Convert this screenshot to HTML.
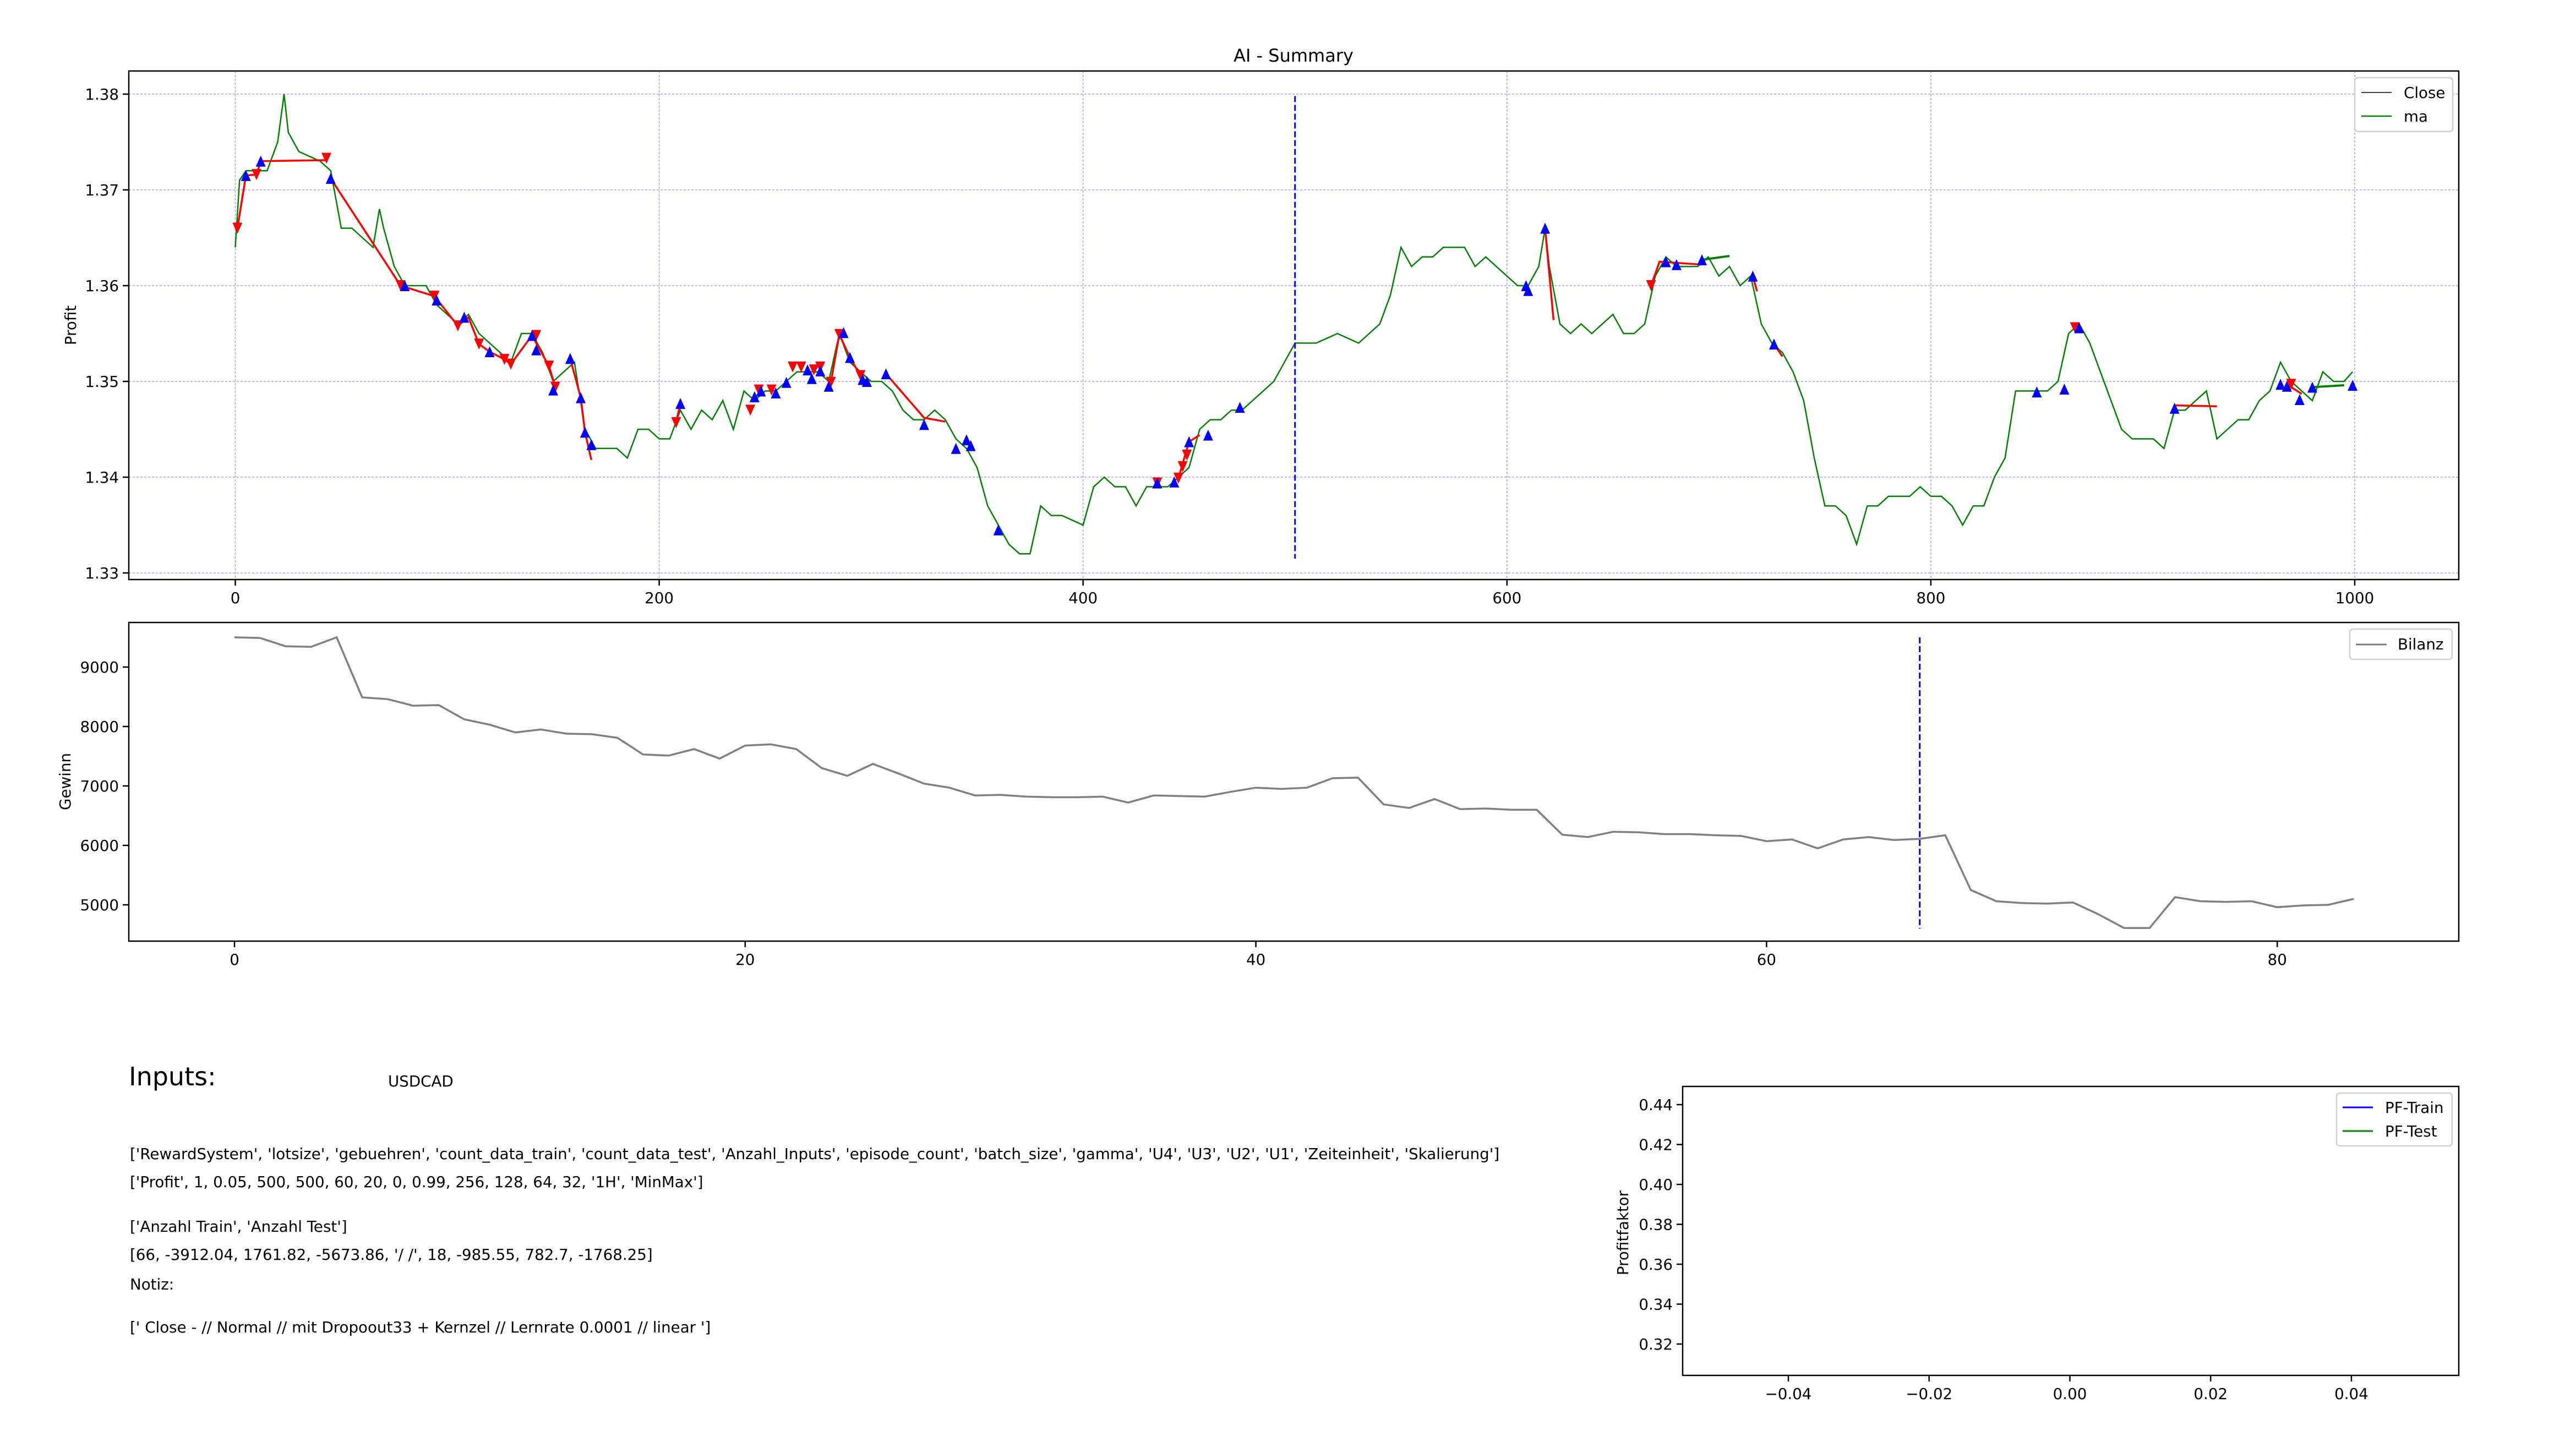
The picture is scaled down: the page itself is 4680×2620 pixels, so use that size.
<!DOCTYPE html>
<html><head><meta charset="utf-8"><style>
html,body{margin:0;padding:0;background:#fff;}
svg{display:block;font-family:"DejaVu Sans","Liberation Sans",sans-serif;}
</style></head><body>
<svg id="fig" width="4680" height="2620" viewBox="0 0 4680 2620" xmlns="http://www.w3.org/2000/svg">
<rect width="4680" height="2620" fill="#fff"/>
<text x="2350" y="112" font-size="32" text-anchor="middle">AI - Summary</text>
<g id="topAx"></g>
<g id="midAx"></g>
<g id="pfAx"></g>
<g font-size="27.7">
<text x="234" y="1972" font-size="46">Inputs:</text>
<text x="705" y="1974">USDCAD</text>
<text x="236" y="2106">['RewardSystem', 'lotsize', 'gebuehren', 'count_data_train', 'count_data_test', 'Anzahl_Inputs', 'episode_count', 'batch_size', 'gamma', 'U4', 'U3', 'U2', 'U1', 'Zeiteinheit', 'Skalierung']</text>
<text x="236" y="2157">['Profit', 1, 0.05, 500, 500, 60, 20, 0, 0.99, 256, 128, 64, 32, '1H', 'MinMax']</text>
<text x="236" y="2238">['Anzahl Train', 'Anzahl Test']</text>
<text x="236" y="2289">[66, -3912.04, 1761.82, -5673.86, '/ /', 18, -985.55, 782.7, -1768.25]</text>
<text x="236" y="2343">Notiz:</text>
<text x="236" y="2421">[' Close - // Normal // mit Dropoout33 + Kernzel // Lernrate  0.0001 // linear ']</text>
</g>
</svg>
<script>
// ---- price chart data ----
const maIdx=[0,2,5,10,15,20,23,25,30,40,45,50,55,60,65,68,70,75,80,85,90,95,100,105,110,115,120,125,130,135,140,145,150,155,160,165,170,175,180,185,190,195,200,205,210,215,220,225,230,235,240,245,250,255,260,265,270,275,280,285,290,295,300,305,310,315,320,325,330,335,340,345,350,355,360,365,370,375,380,385,390,400,405,410,415,420,425,430,440,450,455,460,465,470,475,480,485,490,495,500,505,510,520,530,535,540,545,550,555,560,565,570,575,580,585,590,595,600,605,610,615,618,620,625,630,635,640,645,650,655,660,665,670,675,680,690,695,700,705,710,715,720,725,730,735,740,745,750,755,760,765,770,775,780,790,795,800,805,810,815,820,825,830,835,840,845,850,855,860,865,870,875,880,885,890,895,900,905,910,915,920,930,935,940,945,950,955,960,965,970,975,980,985,990,995,999];
const maVal=[1.364,1.371,1.372,1.372,1.372,1.375,1.380,1.376,1.374,1.373,1.372,1.366,1.366,1.365,1.364,1.368,1.366,1.362,1.360,1.360,1.360,1.358,1.357,1.356,1.357,1.355,1.354,1.353,1.352,1.355,1.355,1.353,1.350,1.351,1.352,1.345,1.343,1.343,1.343,1.342,1.345,1.345,1.344,1.344,1.347,1.345,1.347,1.346,1.348,1.345,1.349,1.348,1.349,1.349,1.350,1.351,1.351,1.351,1.350,1.355,1.352,1.351,1.350,1.350,1.349,1.347,1.346,1.346,1.347,1.346,1.344,1.343,1.341,1.337,1.335,1.333,1.332,1.332,1.337,1.336,1.336,1.335,1.339,1.340,1.339,1.339,1.337,1.339,1.339,1.341,1.345,1.346,1.346,1.347,1.347,1.348,1.349,1.350,1.352,1.354,1.354,1.354,1.355,1.354,1.355,1.356,1.359,1.364,1.362,1.363,1.363,1.364,1.364,1.364,1.362,1.363,1.362,1.361,1.360,1.360,1.362,1.366,1.362,1.356,1.355,1.356,1.355,1.356,1.357,1.355,1.355,1.356,1.361,1.363,1.362,1.362,1.363,1.361,1.362,1.360,1.361,1.356,1.354,1.353,1.351,1.348,1.342,1.337,1.337,1.336,1.333,1.337,1.337,1.338,1.338,1.339,1.338,1.338,1.337,1.335,1.337,1.337,1.340,1.342,1.349,1.349,1.349,1.349,1.350,1.355,1.356,1.354,1.351,1.348,1.345,1.344,1.344,1.344,1.343,1.347,1.347,1.349,1.344,1.345,1.346,1.346,1.348,1.349,1.352,1.350,1.349,1.348,1.351,1.350,1.350,1.351];
const buyIdx=[5,12,45,80,95,108,120,140,142,150,158,163,165,168,210,245,248,255,260,270,272,276,280,287,290,296,298,307,325,340,345,347,360,435,443,450,459,474,609,610,618,675,680,692,716,726,850,863,870,915,965,968,974,980,999];
const buyVal=[1.3715,1.373,1.3712,1.360,1.3585,1.3567,1.3531,1.3548,1.3533,1.3491,1.3524,1.3483,1.3447,1.3434,1.3477,1.3484,1.349,1.3488,1.3499,1.3512,1.3503,1.3511,1.3495,1.3551,1.3525,1.3502,1.350,1.3508,1.3455,1.3430,1.3439,1.3433,1.3345,1.3394,1.3395,1.3437,1.3444,1.3473,1.3600,1.3595,1.3660,1.3625,1.3622,1.3627,1.3610,1.3539,1.3489,1.3492,1.3556,1.3472,1.3497,1.3495,1.3481,1.3494,1.3496];
const sellIdx=[1,10,43,78,94,105,115,127,130,142,148,151,208,243,247,253,263,267,273,276,281,285,295,435,445,447,449,668,868,970];
const sellVal=[1.366,1.3716,1.3733,1.360,1.3589,1.3558,1.3539,1.3523,1.3518,1.3548,1.3516,1.3494,1.3457,1.3470,1.3491,1.3491,1.3515,1.3515,1.3512,1.3515,1.3499,1.3549,1.3506,1.3394,1.3399,1.3411,1.3423,1.3600,1.3556,1.3497];
const tradeIdx=[[1,5,10,12,43],[45,78,94,105,110,115,120,127,130,140,148,151],[158,163,165,168],[208,210],[281,285,290,296],[307,325,335],[445,450,455],[618,622],[668,672,692],[716,718],[726,730],[915,935],[968,975]];
const tradeVal=[[1.366,1.3715,1.3716,1.373,1.3731],[1.3712,1.360,1.3589,1.3558,1.3567,1.3539,1.3531,1.3523,1.3518,1.3548,1.3516,1.3494],[1.3524,1.3483,1.3447,1.3418],[1.3457,1.3477],[1.3499,1.3549,1.3525,1.3502],[1.3508,1.3462,1.3458],[1.3399,1.3437,1.3444],[1.3660,1.3564],[1.3600,1.3625,1.3622],[1.3610,1.3594],[1.3539,1.3526],[1.3475,1.3474],[1.3497,1.3487]];
const greenTradeIdx=[[692,705],[980,995]];
const greenTradeVal=[[1.3627,1.3631],[1.3494,1.3496]];
const topXTicks=[0,200,400,600,800,1000];
const topYTicks=[1.33,1.34,1.35,1.36,1.37,1.38];
// ---- balance chart data ----
const bilanz=[9500,9490,9350,9340,9500,8490,8460,8350,8360,8120,8030,7900,7950,7880,7870,7810,7530,7510,7620,7460,7680,7700,7620,7300,7170,7370,7210,7040,6970,6840,6850,6820,6810,6810,6820,6720,6840,6830,6820,6900,6970,6950,6970,7130,7140,6690,6630,6780,6610,6620,6600,6600,6180,6140,6230,6220,6190,6190,6170,6160,6070,6100,5950,6100,6140,6090,6110,6170,5250,5060,5030,5020,5040,4840,4610,4610,5130,5060,5050,5060,4960,4990,5000,5100];
const midXTicks=[0,20,40,60,80];
const midYTicks=[5000,6000,7000,8000,9000];
const pfXTicks=[-0.04,-0.02,0.00,0.02,0.04];
const pfYTicks=[0.32,0.34,0.36,0.38,0.40,0.42,0.44];

const NS="http://www.w3.org/2000/svg";
function mk(parent,tag,attrs,text){const e=document.createElementNS(NS,tag);for(const k in attrs)e.setAttribute(k,attrs[k]);if(text!==undefined)e.textContent=text;parent.appendChild(e);return e;}
const FS=27.7;

// top axes
const gTop=document.getElementById('topAx');
const tx=v=>427.5+v*3.8505, ty=v=>171+(1.38-v)*17400;
topXTicks.forEach(v=>{const l=mk(gTop,'line',{x1:tx(v),x2:tx(v),y1:129,y2:1053,stroke:'#a0a0ff','stroke-width':1.5,'stroke-dasharray':'4,3'});
});
topYTicks.forEach(v=>{const l=mk(gTop,'line',{x1:234,x2:4467,y1:ty(v),y2:ty(v),stroke:'#a0a0ff','stroke-width':1.5,'stroke-dasharray':'4,3'});
});
let pts=maIdx.map((x,i)=>tx(x).toFixed(1)+','+ty(maVal[i]).toFixed(1)).join(' ');
const maLine=mk(gTop,'polyline',{points:pts,fill:'none',stroke:'#008000','stroke-width':2.5});


tradeIdx.forEach((arr,j)=>{const pl=mk(gTop,'polyline',{points:arr.map((x,i)=>tx(x)+','+ty(tradeVal[j][i])).join(' '),fill:'none',stroke:'#ff0000','stroke-width':3.5});
});
greenTradeIdx.forEach((arr,j)=>{const pl=mk(gTop,'polyline',{points:arr.map((x,i)=>tx(x)+','+ty(greenTradeVal[j][i])).join(' '),fill:'none',stroke:'#008000','stroke-width':4});
});
sellIdx.forEach((x,i)=>{const cx=tx(x),cy=ty(sellVal[i]);const t=mk(gTop,'polygon',{points:`${cx-9},${cy-10} ${cx+9},${cy-10} ${cx},${cy+10}`,fill:'#ff0000'});
});
buyIdx.forEach((x,i)=>{const cx=tx(x),cy=ty(buyVal[i]);const t=mk(gTop,'polygon',{points:`${cx-9},${cy+10} ${cx+9},${cy+10} ${cx},${cy-10}`,fill:'#0000ff'});
});
const sp1=mk(gTop,'line',{x1:tx(500),x2:tx(500),y1:ty(1.3798),y2:ty(1.3315),stroke:'#0000ff','stroke-width':3,'stroke-dasharray':'11,5'});

mk(gTop,'rect',{x:234,y:129,width:4233,height:924,fill:'none',stroke:'#000','stroke-width':2.5});
topXTicks.forEach(v=>{mk(gTop,'line',{x1:tx(v),x2:tx(v),y1:1053,y2:1064,stroke:'#000','stroke-width':2.5});
const t=mk(gTop,'text',{x:tx(v),y:1096,'font-size':FS,'text-anchor':'middle'},String(v));
});
topYTicks.forEach(v=>{mk(gTop,'line',{x1:223,x2:234,y1:ty(v),y2:ty(v),stroke:'#000','stroke-width':2.5});
const t=mk(gTop,'text',{x:216,y:ty(v)+10,'font-size':FS,'text-anchor':'end'},v.toFixed(2));
});
const yl=mk(gTop,'text',{x:0,y:0,'font-size':FS,'text-anchor':'middle',transform:'translate(138,591) rotate(-90)'},'Profit');

const lg=mk(gTop,'g',{});
mk(lg,'rect',{x:4278,y:141,width:178,height:98,rx:6,fill:'#fff',stroke:'#d0d0d0','stroke-width':2.5});
mk(lg,'line',{x1:4290,x2:4345,y1:168,y2:168,stroke:'#404040','stroke-width':2});
mk(lg,'text',{x:4367,y:178,'font-size':FS},'Close');
mk(lg,'line',{x1:4290,x2:4345,y1:211,y2:211,stroke:'#008000','stroke-width':2.5});
mk(lg,'text',{x:4367,y:221,'font-size':FS},'ma');

// middle axes
const gMid=document.getElementById('midAx');
const mx=v=>426+v*46.39, my=v=>1212+(9000-v)*0.108;
pts=bilanz.map((v,i)=>mx(i).toFixed(1)+','+my(v).toFixed(1)).join(' ');
const bl=mk(gMid,'polyline',{points:pts,fill:'none',stroke:'#808080','stroke-width':3.5});


const sp2=mk(gMid,'line',{x1:mx(66),x2:mx(66),y1:my(9500),y2:my(4600),stroke:'#0000ff','stroke-width':3,'stroke-dasharray':'11,5'});

mk(gMid,'rect',{x:234,y:1131,width:4233,height:579,fill:'none',stroke:'#000','stroke-width':2.5});
midXTicks.forEach(v=>{mk(gMid,'line',{x1:mx(v),x2:mx(v),y1:1710,y2:1721,stroke:'#000','stroke-width':2.5});
const t=mk(gMid,'text',{x:mx(v),y:1753,'font-size':FS,'text-anchor':'middle'},String(v));
});
midYTicks.forEach(v=>{mk(gMid,'line',{x1:223,x2:234,y1:my(v),y2:my(v),stroke:'#000','stroke-width':2.5});
const t=mk(gMid,'text',{x:216,y:my(v)+10,'font-size':FS,'text-anchor':'end'},String(v));
});
const yl2=mk(gMid,'text',{x:0,y:0,'font-size':FS,'text-anchor':'middle',transform:'translate(128,1420) rotate(-90)'},'Gewinn');

const lg2=mk(gMid,'g',{});
mk(lg2,'rect',{x:4269,y:1143,width:186,height:55,rx:6,fill:'#fff',stroke:'#d0d0d0','stroke-width':2.5});
mk(lg2,'line',{x1:4280,x2:4336,y1:1171,y2:1171,stroke:'#808080','stroke-width':3});
mk(lg2,'text',{x:4356,y:1180,'font-size':FS},'Bilanz');

// profit factor axes
const gPf=document.getElementById('pfAx');
const px=v=>3760.5+v*12787, py=v=>2007+(0.44-v)*3625;
mk(gPf,'rect',{x:3057,y:1974,width:1410,height:525,fill:'none',stroke:'#000','stroke-width':2.5});
pfXTicks.forEach(v=>{mk(gPf,'line',{x1:px(v),x2:px(v),y1:2499,y2:2510,stroke:'#000','stroke-width':2.5});
const t=mk(gPf,'text',{x:px(v),y:2542,'font-size':FS,'text-anchor':'middle'},(v<0?'\u2212':'')+Math.abs(v).toFixed(2));
});
pfYTicks.forEach(v=>{mk(gPf,'line',{x1:3046,x2:3057,y1:py(v),y2:py(v),stroke:'#000','stroke-width':2.5});
const t=mk(gPf,'text',{x:3039,y:py(v)+10,'font-size':FS,'text-anchor':'end'},v.toFixed(2));
});
const yl3=mk(gPf,'text',{x:0,y:0,'font-size':FS,'text-anchor':'middle',transform:'translate(2958,2240) rotate(-90)'},'Profitfaktor');

const lg3=mk(gPf,'g',{});
mk(lg3,'rect',{x:4245,y:1986,width:210,height:96,rx:6,fill:'#fff',stroke:'#d0d0d0','stroke-width':2.5});
mk(lg3,'line',{x1:4256,x2:4311,y1:2012,y2:2012,stroke:'#0000ff','stroke-width':3});
mk(lg3,'text',{x:4333,y:2022,'font-size':FS},'PF-Train');
mk(lg3,'line',{x1:4256,x2:4311,y1:2055,y2:2055,stroke:'#008000','stroke-width':3});
mk(lg3,'text',{x:4333,y:2065,'font-size':FS},'PF-Test');
</script>
</body></html>
